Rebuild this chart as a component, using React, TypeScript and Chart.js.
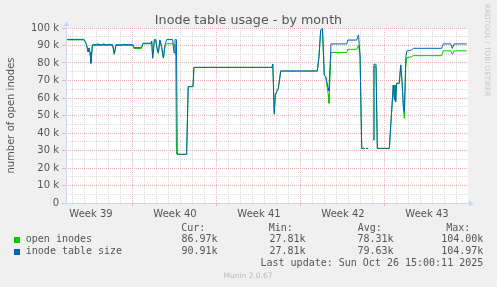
import React, { useEffect, useRef } from "react";
import { Chart, registerables } from "chart.js";

Chart.register(...registerables);

// ---------- data ----------
const chartTitle = "Inode table usage - by month";
const yAxisTitle = "number of open inodes";
const weekLabels = ["Week 39", "Week 40", "Week 41", "Week 42", "Week 43"];
// week label positions, in days since Mon 22 Sep 2025 00:00
const weekMidDays = [3.5, 10.5, 17.5, 24.5, 31.5];
const xMinDay = 1.4167;
const xMaxDay = 34.9167;
const yMax = 100; // thousands

// time in days since Mon 22 Sep 2025 00:00
const times = [
  1.42, 2.92, 3.05, 3.14, 3.25, 3.33, 3.42, 3.5, 3.61, 3.98, 4.02, 4.08, 4.48, 4.52, 4.58,
  4.98, 5.02, 5.08, 5.3, 5.44, 5.58, 6.2, 6.25, 6.3, 7.0, 7.08, 7.7, 7.83, 8.5, 8.56,
  8.64, 8.78, 8.9, 9.0, 9.11, 9.25, 9.38, 9.53, 9.67, 9.81, 10.3, 10.42, 10.5, 10.56, 10.62,
  10.69, 11.47, 11.6, 12.0, 12.08, 18.58, 18.65, 18.77, 18.86, 18.98, 19.11, 19.31, 22.36, 22.5,
  22.64, 22.79, 22.94, 23.06, 23.27, 23.33, 23.5, 24.81, 24.89, 25.64, 25.79, 25.92, 26.06, 26.31,
  26.36, 26.42, 26.61, 26.8, 27.03, 27.08, 27.25, 27.36, 28.36, 28.69, 28.78, 28.83, 28.89, 28.97,
  29.19, 29.31, 29.42, 29.53, 29.61, 29.73, 29.81, 30.22, 30.36, 32.72, 32.86, 33.47, 33.61, 33.77,
  34.81,
];
// thousands
const openInodes: (number | null)[] = [
  93.2, 93.2, 91.5, 90.0, 86.5, 88.5, 86.0, 80.5, 90.0, 90.0, 90.5, 90.0, 90.0, 90.5, 90.0,
  90.0, 90.4, 90.0, 90.0, 85.0, 90.0, 90.0, 90.5, 90.0, 90.0, 88.3, 88.3, 91.0, 91.0, 92.2,
  83.0, 93.0, 93.0, 88.0, 85.5, 92.8, 89.0, 83.0, 90.0, 91.0, 91.0, 90.5, 90.0, 83.6, 28.0,
  27.81, 27.81, 66.5, 66.5, 77.5, 77.5, 79.3, 52.0, 61.7, 63.6, 65.5, 75.3, 75.3, 84.0,
  98.5, 99.5, 73.0, 72.0, 62.0, 57.0, 86.0, 86.0, 87.8, 87.8, 90.3, 84.0, 31.2, 31.2,
  null, 31.2, 31.2, null, 36.0, 78.0, 77.9, 31.2, 31.2, 67.4, 58.9, 67.4, 57.9, 68.4,
  68.4, 78.9, 69.4, 55.0, 48.4, 78.0, 83.0, 83.6, 84.2, 84.2, 86.97, 86.97, 85.0, 86.97,
  86.97,
];
const inodeTableSize: (number | null)[] = [
  93.5, 93.5, 91.8, 90.3, 86.3, 88.6, 86.0, 79.8, 90.5, 90.5, 91.0, 90.5, 90.5, 91.0, 90.5,
  90.5, 90.9, 90.5, 90.5, 85.2, 90.5, 90.5, 91.0, 90.5, 90.5, 88.8, 88.8, 91.3, 91.3, 92.6,
  82.7, 93.4, 93.4, 88.5, 86.0, 93.2, 89.5, 82.7, 90.5, 93.4, 93.4, 85.7, 93.4, 93.4, 93.4,
  27.81, 27.81, 66.5, 66.5, 77.5, 77.5, 79.3, 50.7, 61.7, 63.6, 65.5, 75.5, 75.5, 83.6,
  98.9, 99.6, 73.0, 72.2, 65.5, 64.0, 90.9, 90.9, 93.1, 93.1, 96.0, 84.6, 31.2, 31.2,
  null, 31.2, 31.2, null, 36.0, 79.3, 79.3, 31.2, 31.2, 67.4, 58.9, 67.4, 57.9, 68.4,
  68.4, 78.9, 69.4, 55.0, 52.0, 82.7, 86.9, 87.4, 88.4, 88.4, 90.91, 90.91, 88.4, 90.91,
  90.91,
];

const seriesNames = ["open inodes", "inode table size"];
const seriesColors = ["#00CC00", "#0066B3"];
const curValues = ["86.97k", "90.91k"];
const minValues = ["27.81k", "27.81k"];
const avgValues = ["78.31k", "79.63k"];
const maxValues = ["104.00k", "104.97k"];
const lastUpdate = "Last update: Sun Oct 26 15:00:11 2025";
const muninVersion = "Munin 2.0.67";
const rrdCredit = "RRDTOOL / TOBI OETIKER";

// ---------- styles ----------
const MAJOR = "#ecb2b2";
const MINOR = "#d9d9d9";
const AXIS = "#cfd6f8";
const TEXT = "#555555";

const plotBackground = {
  id: "plotBackground",
  beforeDraw(chart: any) {
    const { ctx, chartArea } = chart;
    ctx.save();
    ctx.fillStyle = "#ffffff";
    ctx.fillRect(chartArea.left, chartArea.top, chartArea.right - chartArea.left, chartArea.bottom - chartArea.top);
    ctx.restore();
  },
};

const axisArrows = {
  id: "axisArrows",
  afterDatasetsDraw(chart: any) {
    const { ctx, chartArea } = chart;
    const { left, right, top, bottom } = chartArea;
    ctx.save();
    ctx.strokeStyle = AXIS;
    ctx.fillStyle = AXIS;
    ctx.lineWidth = 1;
    const lx = Math.round(left) + 0.5;
    const by = Math.round(bottom) + 0.5;
    ctx.beginPath();
    ctx.moveTo(lx, bottom + 2);
    ctx.lineTo(lx, top - 4);
    ctx.moveTo(left - 2, by);
    ctx.lineTo(right + 2, by);
    ctx.stroke();
    ctx.beginPath();
    ctx.moveTo(lx, top - 7);
    ctx.lineTo(lx - 3, top - 2);
    ctx.lineTo(lx + 3, top - 2);
    ctx.closePath();
    ctx.fill();
    ctx.beginPath();
    ctx.moveTo(right + 6, by);
    ctx.lineTo(right + 1, by - 3);
    ctx.lineTo(right + 1, by + 3);
    ctx.closePath();
    ctx.fill();
    ctx.restore();
  },
};

export default function App() {
  const ref = useRef<HTMLCanvasElement>(null);

  useEffect(() => {
    if (!ref.current) return;
    Chart.defaults.font.family = "'DejaVu Sans', sans-serif";
    const mk = (vals: (number | null)[]) => times.map((t, i) => ({ x: t, y: vals[i] }));
    const chart = new Chart(ref.current, {
      type: "line",
      data: {
        datasets: [
          {
            label: seriesNames[0],
            data: mk(openInodes) as any,
            borderColor: seriesColors[0],
            backgroundColor: seriesColors[0],
            borderWidth: 1,
            pointRadius: 0,
            tension: 0,
            spanGaps: false,
            order: 2,
          },
          {
            label: seriesNames[1],
            data: mk(inodeTableSize) as any,
            borderColor: seriesColors[1],
            backgroundColor: seriesColors[1],
            borderWidth: 1,
            pointRadius: 0,
            tension: 0,
            spanGaps: false,
            order: 1,
          },
        ],
      },
      options: {
        animation: false,
        responsive: false,
        maintainAspectRatio: false,
        layout: { padding: { left: 0, right: 29, top: 28, bottom: 64 } },
        plugins: {
          legend: { display: false },
          tooltip: { enabled: false },
          title: { display: false },
        },
        scales: {
          x: {
            type: "linear",
            min: xMinDay,
            max: xMaxDay,
            afterFit: (scale: any) => {
              scale.height = 20;
            },
            afterBuildTicks: (scale: any) => {
              const ticks: number[] = [];
              for (let d = Math.ceil(xMinDay); d <= Math.floor(xMaxDay); d++) ticks.push(d);
              weekMidDays.forEach((w) => ticks.push(w));
              ticks.sort((a, b) => a - b);
              scale.ticks = ticks.map((v) => ({ value: v }));
            },
            ticks: {
              autoSkip: false,
              maxRotation: 0,
              minRotation: 0,
              padding: 2,
              color: TEXT,
              font: { size: 10 },
              callback: (v: any) => {
                const i = weekMidDays.indexOf(Number(v));
                return i >= 0 ? weekLabels[i] : "";
              },
            },
            grid: {
              drawTicks: true,
              tickLength: 3,
              lineWidth: 1,
              color: (ctx: any) => {
                const v = ctx.tick ? ctx.tick.value : 0;
                if (weekMidDays.indexOf(v) >= 0) return "rgba(0,0,0,0)";
                return v % 7 === 0 ? MAJOR : MINOR;
              },
              tickColor: (ctx: any) => {
                const v = ctx.tick ? ctx.tick.value : 0;
                return v % 7 === 0 ? MAJOR : "rgba(0,0,0,0)";
              },
            },
            border: { display: false, dash: [1, 1] },
          },
          y: {
            type: "linear",
            min: 0,
            max: yMax,
            afterFit: (scale: any) => {
              scale.width = 66;
            },
            ticks: {
              stepSize: 5,
              autoSkip: false,
              padding: 3,
              color: TEXT,
              font: { size: 10 },
              callback: (v: any) => {
                const n = Number(v);
                if (n % 10 !== 0) return "";
                return n === 0 ? "0" : `${n} k`;
              },
            },
            grid: {
              drawTicks: true,
              tickLength: 4,
              lineWidth: 1,
              color: (ctx: any) => {
                const v = ctx.tick ? ctx.tick.value : 0;
                return v % 10 === 0 ? MAJOR : MINOR;
              },
              tickColor: (ctx: any) => {
                const v = ctx.tick ? ctx.tick.value : 0;
                return v % 10 === 0 ? MAJOR : "rgba(0,0,0,0)";
              },
            },
            border: { display: false, dash: [1, 1] },
            title: {
              display: true,
              text: yAxisTitle,
              color: TEXT,
              font: { size: 10 },
              padding: { top: 5, bottom: 0 },
            },
          },
        },
      },
      plugins: [plotBackground, axisArrows],
    });
    return () => chart.destroy();
  }, []);

  const mono: React.CSSProperties = {
    position: "absolute",
    fontFamily: "'DejaVu Sans Mono', monospace",
    fontSize: 10,
    lineHeight: "12px",
    color: TEXT,
    whiteSpace: "pre",
  };
  const rowTops = [233.2, 244.8];
  const valueRights = [217.5, 305.5, 393.5, 483.3];
  const headerLefts = [181.2, 268.8, 357.8, 446.2];
  const headers = ["Cur:", "Min:", "Avg:", "Max:"];
  const cols = [curValues, minValues, avgValues, maxValues];

  return (
    <div
      style={{
        position: "absolute",
        left: 0,
        top: 0,
        width: 497,
        height: 287,
        background: "#F0F0F0",
        overflow: "hidden",
      }}
    >
      <canvas
        ref={ref}
        width={497}
        height={287}
        style={{ position: "absolute", left: 0, top: 0, width: 497, height: 287 }}
      />
      <div
        style={{
          position: "absolute",
          left: 0,
          width: 497,
          top: 12,
          textAlign: "center",
          fontFamily: "'DejaVu Sans', sans-serif",
          fontSize: 12.7,
          lineHeight: "16px",
          color: TEXT,
          whiteSpace: "nowrap",
        }}
      >
        {chartTitle}
      </div>
      {headers.map((h, i) => (
        <div key={h} style={{ ...mono, left: headerLefts[i], top: 222.3 }}>
          {h}
        </div>
      ))}
      {seriesNames.map((name, r) => (
        <React.Fragment key={name}>
          <div
            style={{
              position: "absolute",
              left: 14,
              top: rowTops[r] + 3.8,
              width: 6,
              height: 6,
              background: seriesColors[r],
            }}
          />
          <div style={{ ...mono, left: 25.8, top: rowTops[r] }}>{name}</div>
          {cols.map((col, c) => (
            <div
              key={c}
              style={{ ...mono, left: valueRights[c] - 80, width: 80, textAlign: "right", top: rowTops[r] }}
            >
              {col[r]}
            </div>
          ))}
        </React.Fragment>
      ))}
      <div style={{ ...mono, left: 260.5, top: 257.4 }}>{lastUpdate}</div>
      <div
        style={{
          position: "absolute",
          left: 148,
          width: 200,
          top: 271,
          textAlign: "center",
          fontFamily: "'DejaVu Sans', sans-serif",
          fontSize: 7.5,
          lineHeight: "10px",
          color: "#bbbbbb",
        }}
      >
        {muninVersion}
      </div>
      <div
        style={{
          position: "absolute",
          left: 481.5,
          top: 4,
          width: 10,
          writingMode: "vertical-rl",
          fontFamily: "'DejaVu Sans', sans-serif",
          fontSize: 7.2,
          lineHeight: "10px",
          color: "#c8c8c8",
          whiteSpace: "nowrap",
        }}
      >
        {rrdCredit}
      </div>
    </div>
  );
}
